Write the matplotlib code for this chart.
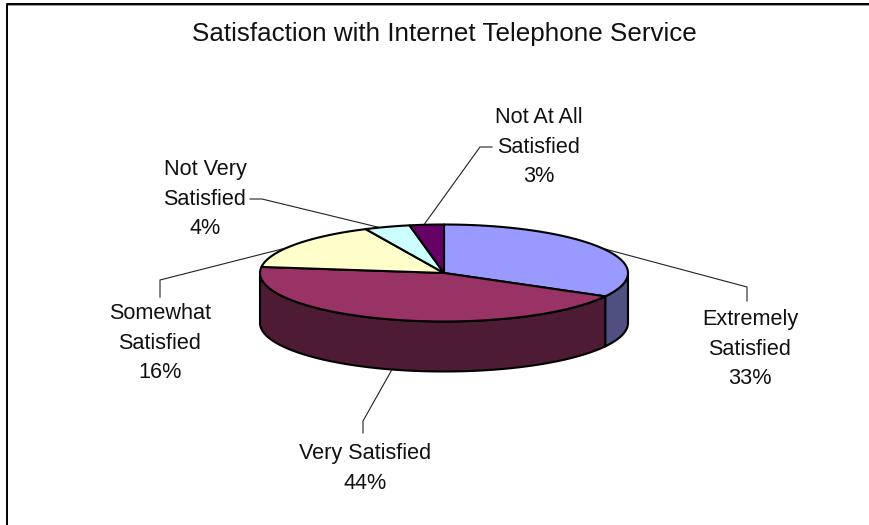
import numpy as np
import matplotlib
matplotlib.use('Agg')
import matplotlib.pyplot as plt
from matplotlib.patches import Polygon

plt.rcParams['font.family'] = 'Liberation Sans'

title = 'Satisfaction with Internet Telephone Service'
categories = ['Extremely\nSatisfied', 'Very Satisfied', 'Somewhat\nSatisfied',
              'Not Very\nSatisfied', 'Not At All\nSatisfied']
values = [33, 44, 16, 4, 3]
top_colors = ['#9999FF', '#993366', '#FFFFCC', '#CCFFFF', '#660066']
side_colors = ['#4F4F80', '#4E1B35', '#7F7F66', '#667F7F', '#330033']

# pie geometry, in pixels
cx, cy = 444, 273
rx, ry = 184, 48.5
depth = 50

# label anchor (top centre), then the leader elbow points starting at the label
label_pos = [(750, 309), (365, 443), (160, 303), (205, 159), (539, 107)]
leader_pts = [
    [(747, 301), (747, 287)],
    [(363, 433), (363, 421)],
    [(160, 297), (160, 280)],
    [(250, 199), (262, 199)],
    [(492, 147), (480, 147)],
]
# where each leader touches the pie, as a fraction of the slice
leader_frac = [0.5, 0.49, 0.42, 0.33, 0.42]


def rim(a):
    a = np.asarray(a)
    return cx + rx * np.sin(a), cy - ry * np.cos(a)


fig = plt.figure(figsize=(8.7, 5.25), dpi=100)
fig.patch.set_facecolor('white')
ax = fig.add_axes([0, 0, 1, 1])
ax.set_xlim(0, 870)
ax.set_ylim(525, 0)
ax.axis('off')

# chart frame: only the left and top edges show
ax.plot([8, 870], [5, 5], color='#8a8a8a', lw=1.2, zorder=1)
ax.plot([7.5, 7.5, 870], [525, 3.8, 3.8], color='black', lw=1.4, zorder=2)

fracs = np.array(values) / sum(values)
edges = np.concatenate([[0], np.cumsum(fracs)]) * 2 * np.pi

# side wall, only for the near half of the ellipse
for i in range(len(values)):
    a0, a1 = edges[i], min(edges[i + 1], 1.5 * np.pi)
    if a0 >= 1.5 * np.pi or a1 <= 0.5 * np.pi:
        continue
    a0 = max(a0, 0.5 * np.pi)
    t = np.linspace(a0, a1, 120)
    x, y = rim(t)
    pts = np.column_stack([np.r_[x, x[::-1]], np.r_[y, y[::-1] + depth]])
    ax.add_patch(Polygon(pts, closed=True, fc=side_colors[i], ec='black',
                         lw=1.5, joinstyle='round', zorder=3))

# top face
for i in range(len(values)):
    t = np.linspace(edges[i], edges[i + 1], 160)
    x, y = rim(t)
    pts = np.column_stack([np.r_[cx, x], np.r_[cy, y]])
    ax.add_patch(Polygon(pts, closed=True, fc=top_colors[i], ec='black',
                         lw=1.5, joinstyle='round', zorder=4))

# leaders
for i in range(len(values)):
    a = edges[i] + leader_frac[i] * (edges[i + 1] - edges[i])
    x, y = rim(a)
    if 0.5 * np.pi < a < 1.5 * np.pi:
        y += depth
    xs = [p[0] for p in leader_pts[i]] + [float(x)]
    ys = [p[1] for p in leader_pts[i]] + [float(y)]
    ax.plot(xs, ys, color='#222222', lw=0.8, zorder=2.5)

# labels
for i, name in enumerate(categories):
    ax.text(label_pos[i][0], label_pos[i][1], f'{name}\n{values[i]}%',
            ha='center', va='top', fontsize=15.6, linespacing=1.54,
            color='#111111', zorder=5)

ax.text(444, 34, title, ha='center', va='center', fontsize=18.7,
        color='#111111', zorder=5)

fig.savefig('out.png', dpi=100)
